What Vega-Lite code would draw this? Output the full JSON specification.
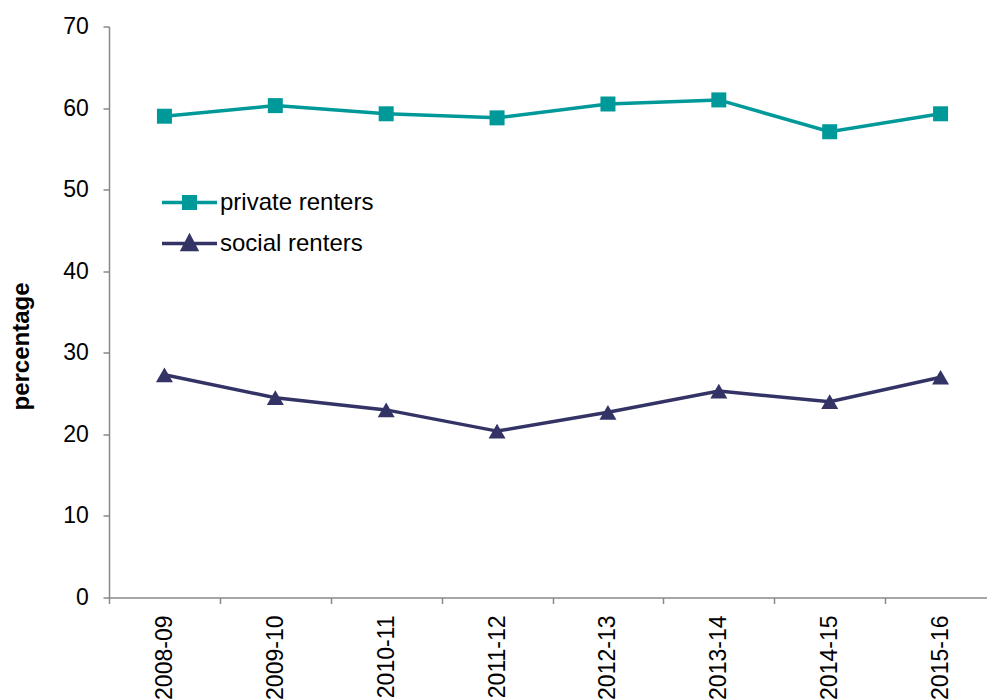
{
  "$schema": "https://vega.github.io/schema/vega-lite/v6.json",
  "autosize": {"type": "none"},
  "padding": {"left": 109, "top": 26.5, "right": 0, "bottom": 101.5},
  "width": 878,
  "height": 571,
  "background": "white",
  "config": {"view": {"stroke": null}, "font": "Liberation Sans"},
  "data": {
    "values": [
      {"year": "2008-09", "tenure": "private renters", "percentage": 59.0},
      {"year": "2009-10", "tenure": "private renters", "percentage": 60.3},
      {"year": "2010-11", "tenure": "private renters", "percentage": 59.3},
      {"year": "2011-12", "tenure": "private renters", "percentage": 58.8},
      {"year": "2012-13", "tenure": "private renters", "percentage": 60.5},
      {"year": "2013-14", "tenure": "private renters", "percentage": 61.0},
      {"year": "2014-15", "tenure": "private renters", "percentage": 57.1},
      {"year": "2015-16", "tenure": "private renters", "percentage": 59.3},
      {"year": "2008-09", "tenure": "social renters", "percentage": 27.3},
      {"year": "2009-10", "tenure": "social renters", "percentage": 24.5},
      {"year": "2010-11", "tenure": "social renters", "percentage": 23.0},
      {"year": "2011-12", "tenure": "social renters", "percentage": 20.4},
      {"year": "2012-13", "tenure": "social renters", "percentage": 22.7},
      {"year": "2013-14", "tenure": "social renters", "percentage": 25.3},
      {"year": "2014-15", "tenure": "social renters", "percentage": 24.0},
      {"year": "2015-16", "tenure": "social renters", "percentage": 27.0}
    ]
  },
  "encoding": {
    "x": {
      "field": "year",
      "type": "ordinal",
      "sort": null,
      "scale": {"type": "band", "range": [0, 887], "paddingInner": 0, "paddingOuter": 0},
      "axis": {
        "title": null,
        "labelAngle": 270,
        "tickBand": "extent",
        "labelFont": "Liberation Sans",
        "labelFontSize": 23,
        "labelColor": "black",
        "labelPadding": 11.5,
        "tickSize": 6,
        "tickColor": "#888888",
        "tickWidth": 1.5,
        "domainColor": "#888888",
        "domainWidth": 1.5,
        "grid": false
      }
    },
    "y": {
      "field": "percentage",
      "type": "quantitative",
      "scale": {"domain": [0, 70], "nice": false},
      "axis": {
        "values": [0, 10, 20, 30, 40, 50, 60, 70],
        "grid": false,
        "title": "percentage",
        "titleFont": "Liberation Sans",
        "titleFontSize": 24,
        "titleFontWeight": "bold",
        "titleColor": "black",
        "titleAngle": 270,
        "titleAlign": "center",
        "titleBaseline": "alphabetic",
        "titleX": -80.7,
        "titleY": 319.5,
        "labelFont": "Liberation Sans",
        "labelFontSize": 23,
        "labelColor": "black",
        "labelPadding": 14.7,
        "tickSize": 6,
        "tickColor": "#888888",
        "tickWidth": 1.5,
        "domainColor": "#888888",
        "domainWidth": 1.5
      }
    },
    "color": {
      "field": "tenure",
      "type": "nominal",
      "scale": {"domain": ["private renters", "social renters"], "range": ["#009999", "#333366"]},
      "legend": {
        "title": null,
        "orient": "none",
        "legendX": 58.5,
        "legendY": 154,
        "padding": 0,
        "symbolSize": 1600,
        "labelFont": "Liberation Sans",
        "labelFontSize": 24,
        "labelColor": "black",
        "labelOffset": 8.5,
        "rowPadding": 6,
        "symbolStrokeWidth": 3.5,
        "encode": {
          "symbols": {
            "update": {
              "shape": {"signal": "datum.value === 'private renters' ? 'M-1.375,0L1.375,0M-0.29,-0.29L0.29,-0.29L0.29,0.29L-0.29,0.29Z' : 'M-1.375,0L1.375,0M-0.34,0.3L0,-0.35L0.34,0.3Z'"},
              "size": {"value": 1600},
              "fill": {"signal": "scale('color', datum.value)"},
              "stroke": {"signal": "scale('color', datum.value)"},
              "strokeWidth": {"value": 3.5},
              "opacity": {"value": 1},
              "fillOpacity": {"value": 1}
            }
          }
        }
      }
    }
  },
  "layer": [
    {"mark": {"type": "line", "strokeWidth": 3.5}},
    {
      "transform": [{"filter": "datum.tenure === 'private renters'"}],
      "mark": {"type": "point", "filled": true, "opacity": 1, "shape": "square", "size": 225}
    },
    {
      "transform": [{"filter": "datum.tenure === 'social renters'"}],
      "mark": {"type": "point", "filled": true, "opacity": 1, "shape": "triangle-up", "size": 289}
    }
  ]
}
